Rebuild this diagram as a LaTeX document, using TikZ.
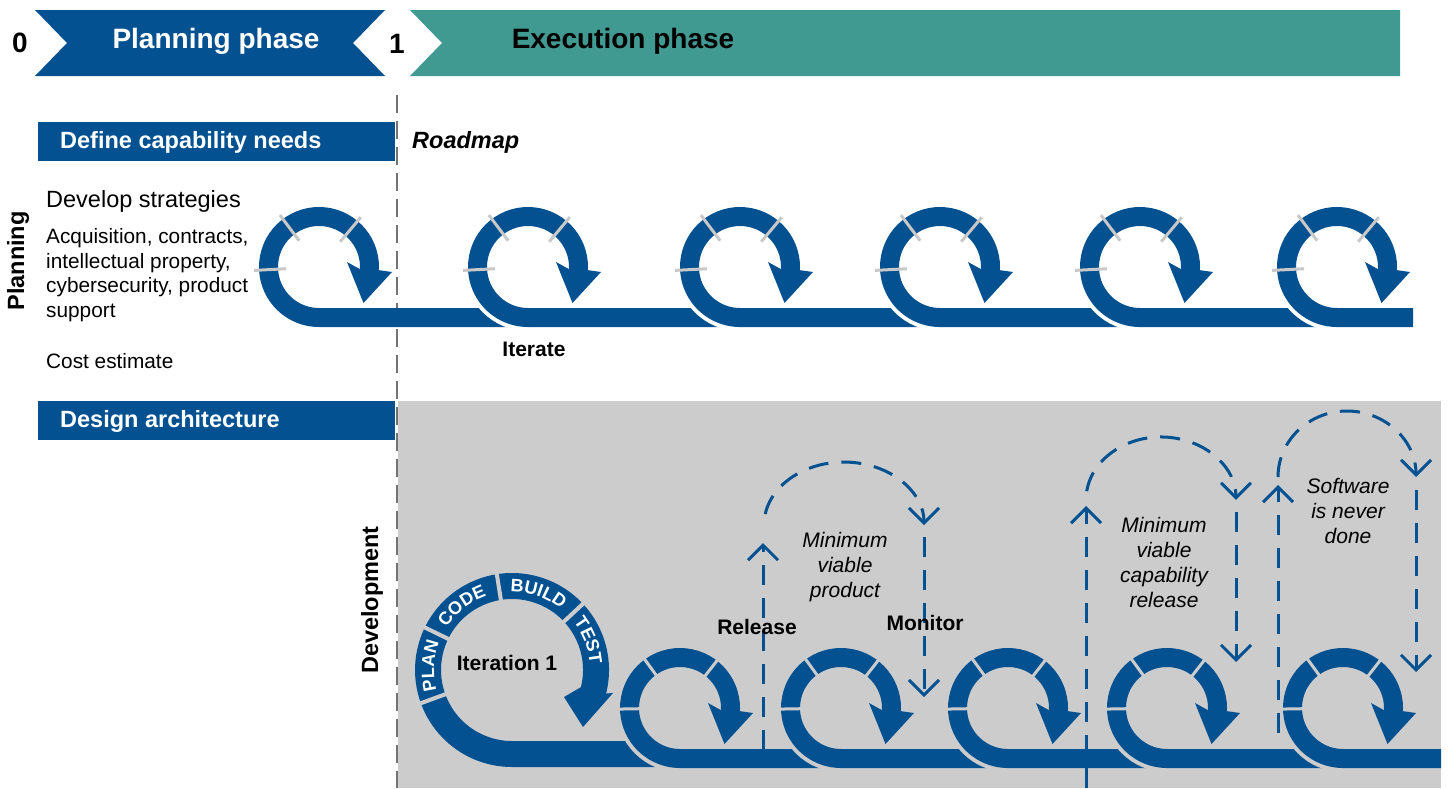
\documentclass[tikz,border=0pt]{standalone}
\usepackage{fontspec}
\setmainfont{Liberation Sans}
\usetikzlibrary{arrows.meta,decorations.text}
\definecolor{sblue}{RGB}{4,81,145}
\definecolor{steal}{RGB}{64,154,146}
\definecolor{bggray}{RGB}{204,204,204}
\definecolor{sepgray}{RGB}{200,200,200}
\newcommand{\segfont}{\fontsize{18}{18}\selectfont\bfseries\color{white}}
\tikzset{
  hdr/.style={font=\fontsize{28}{32}\selectfont\bfseries, inner sep=0},
  barlbl/.style={font=\fontsize{23.5}{28}\selectfont\bfseries, text=white, anchor=west, inner sep=0},
  body/.style={font=\fontsize{20.8}{24.5}\selectfont, anchor=west, align=left, inner sep=0},
  lbl/.style={font=\fontsize{21}{25}\selectfont\bfseries, inner sep=0},
  note/.style={font=\fontsize{21}{25}\selectfont\itshape, align=center, inner sep=0},
  ring/.style={draw=sblue, line width=19pt},
  bigring/.style={draw=sblue, line width=26pt},
  gapring/.style={draw=#1, line width=27pt},
  sep/.style={draw=#1, line width=3pt},
  fb/.style={draw=sblue, line width=3pt, dash pattern=on 20pt off 13pt,
             -{Straight Barb[length=15pt, width=30pt]}},
  phaseline/.style={draw=black!55, line width=2.5pt, dash pattern=on 18pt off 8pt},
}

\begin{document}
\begin{tikzpicture}[x=1pt, y=1pt]
  \useasboundingbox (0,0) rectangle (1448,-788);
  % execution area
  \fill[bggray] (398,-401) rectangle (1441,-788);

  % phase banners
  \fill[sblue] (35,-10) -- (385,-10) -- (353,-43) -- (385,-76) -- (35,-76) -- (67,-43) -- cycle;
  \fill[steal] (410,-10) -- (1400,-10) -- (1400,-76) -- (410,-76) -- (442,-43) -- cycle;
  \node[hdr] (zero) at (20,-43) {0};
  \node[hdr, text=white] (planph) at (216,-41) {Planning phase};
  \node[hdr] (one) at (397,-44) {1};
  \node[hdr] (execph) at (623,-41) {Execution phase};
  \draw[phaseline] (397,-95) -- (397,-788);

  % left column
  \fill[sblue] (38,-122) rectangle (395,-161);
  \node[barlbl] (needs) at (60,-142) {Define capability needs};
  \fill[sblue] (38,-401) rectangle (395,-440);
  \node[barlbl] (arch) at (60,-421) {Design architecture};
  \node[barlbl, text=black, font=\fontsize{23.5}{28}\selectfont\bfseries\itshape] (roadmap) at (412,-142) {Roadmap};
  \node[lbl, font=\fontsize{23.5}{28}\selectfont\bfseries, rotate=90] (planning) at (18,-261) {Planning};
  \node[lbl, font=\fontsize{23.5}{28}\selectfont\bfseries, rotate=90] (devel) at (372,-600) {Development};
  \node[body, font=\fontsize{23.5}{28}\selectfont] (strat) at (46,-201) {Develop strategies};
  \node[body] (areas) at (46,-275) {Acquisition, contracts,\\intellectual property,\\cybersecurity, product\\support};
  \node[body] (cost) at (46,-361) {Cost estimate};

  % roadmap loops
  \foreach \cx/\nx in {319/528, 528/740, 740/940, 940/1140, 1140/1337, 1337/1413} {
    \begin{scope}[shift={(\cx,-267)}]
      \draw[gapring=white] (180:50.5) arc[start angle=180, end angle=270, radius=50.5];
      \draw[ring] (-6:50.5) arc[start angle=-6, end angle=270, radius=50.5] -- (\nx-\cx,-50.5);
      \fill[sblue] (-3:41) -- (28,5) -- (44.5,-36) -- (73,-5) -- (-3:60) -- cycle;
      \foreach \a in {183,127,50} \draw[sep=sepgray] (\a:33) -- (\a:65);
    \end{scope}
  }
  \node[lbl] (iterate) at (534,-349) {Iterate};

  % iteration 1
  \begin{scope}[shift={(512,-670)}]
    \draw[bigring] (-16:84) arc[start angle=-16, end angle=270, radius=84] -- (143,-84);
    \fill[sblue] (-14:71) -- (52,-27) -- (71,-57) -- (101,-23) -- (-14:97) -- cycle;
    \foreach \a in {200,154,99,43} \draw[sep=bggray, line width=4pt] (\a:67) -- (\a:101);
    \path[decorate, decoration={text along path, text align=center, text={|\segfont|PLAN}}]
      (217:78) arc[start angle=217, end angle=137, radius=78];
    \path[decorate, decoration={text along path, text align=center, text={|\segfont|CODE}}]
      (168:78) arc[start angle=168, end angle=88, radius=78];
    \path[decorate, decoration={text along path, text align=center, text={|\segfont|BUILD}}]
      (111:78) arc[start angle=111, end angle=31, radius=78];
    \path[decorate, decoration={text along path, text align=center, text={|\segfont|TEST}}]
      (61:78) arc[start angle=61, end angle=-19, radius=78];
  \end{scope}
  \node[lbl] (iter1) at (507,-663) {Iteration 1};

  % delivery loops
  \foreach \cx/\nx in {680/841, 841/1008, 1008/1167, 1167/1343, 1343/1441} {
    \begin{scope}[shift={(\cx,-708)}]
      \draw[gapring=bggray] (180:50.5) arc[start angle=180, end angle=270, radius=50.5];
      \draw[ring] (-6:50.5) arc[start angle=-6, end angle=270, radius=50.5] -- (\nx-\cx,-50.5);
      \fill[sblue] (-3:41) -- (28,5) -- (44.5,-36) -- (73,-5) -- (-3:60) -- cycle;
      \foreach \a in {181,126,52} \draw[sep=bggray] (\a:36) -- (\a:64);
    \end{scope}
  }

  % feedback arrows
  \coordinate (relfoot) at (763,-750);
  \coordinate (reltop) at (763,-543);
  \coordinate (mvpstart) at (765.2,-514.1);
  \coordinate (montop) at (924,-537);
  \coordinate (monfoot) at (924,-697);
  \draw[fb] (relfoot) -- (reltop);
  \draw[fb] (mvpstart) arc[start angle=170, end angle=0, x radius=80, y radius=63];
  \draw[fb] (montop) -- (monfoot);

  \coordinate (capfoot) at (1086,-788);
  \coordinate (captop) at (1086,-506);
  \coordinate (capstart) at (1086.7,-491.2);
  \coordinate (capdown) at (1236,-512);
  \coordinate (capend) at (1236,-662);
  \draw[fb] (capfoot) -- (captop);
  \draw[fb] (capstart) arc[start angle=172, end angle=0, x radius=75, y radius=63];
  \draw[fb] (capdown) -- (capend);

  \coordinate (swfoot) at (1278,-733);
  \coordinate (swtop) at (1278,-485);
  \coordinate (swstart) at (1278,-477);
  \coordinate (swdown) at (1416,-490);
  \coordinate (swend) at (1416,-672);
  \draw[fb] (swfoot) -- (swtop);
  \draw[fb] (swstart) arc[start angle=180, end angle=0, x radius=69, y radius=66];
  \draw[fb] (swdown) -- (swend);

  \node[lbl] (release) at (757,-627) {Release};
  \node[lbl] (monitor) at (925,-623) {Monitor};
  \node[note] (mvp) at (845,-567) {Minimum\\viable\\product};
  \node[note] (mvcr) at (1164,-562) {Minimum\\viable\\capability\\release};
  \node[note] (never) at (1348,-511) {Software\\is never\\done};
\end{tikzpicture}
\end{document}
